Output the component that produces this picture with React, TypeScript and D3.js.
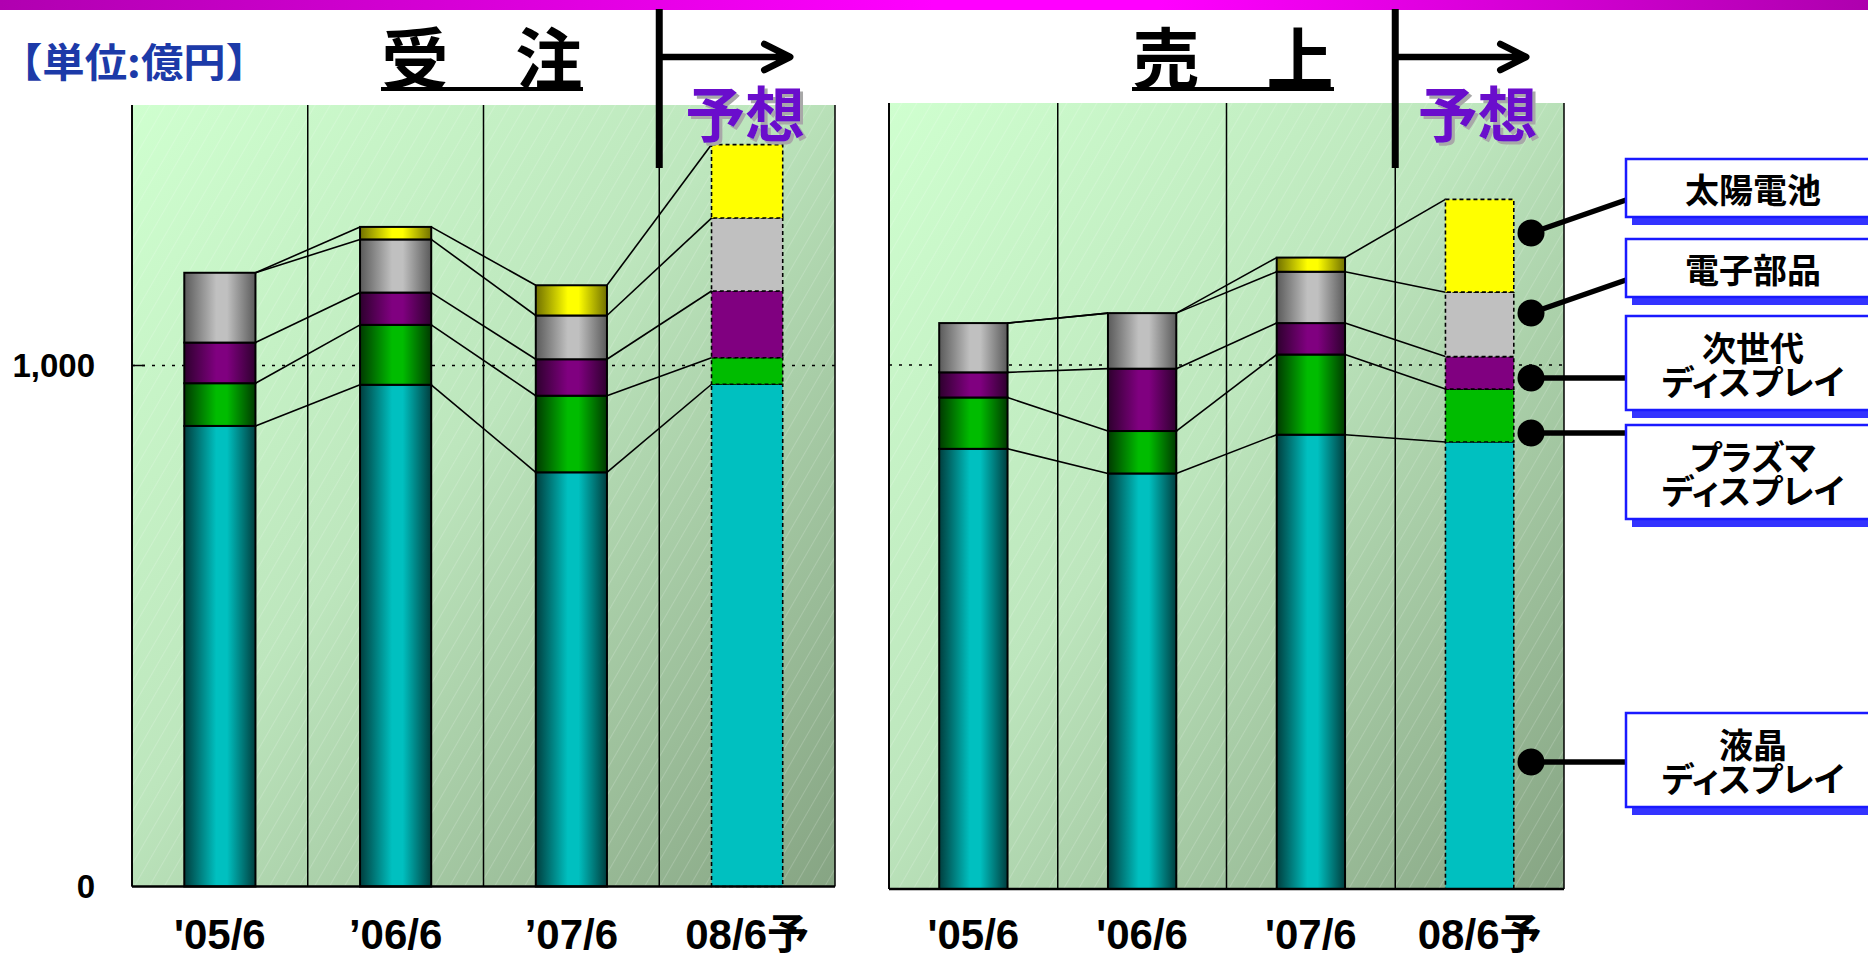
import React from "react";
import * as d3 from "d3";

const W = 1868;
const H = 957;

// Fiscal periods (June year-end); the last one is a forecast
const periods = ["05/6", "06/6", "07/6", "08/6"];
const orderTickLabels = ["'05/6", "’06/6", "’07/6", "08/6予"];
const salesTickLabels = ["'05/6", "'06/6", "'07/6", "08/6予"];
const isForecast = [false, false, false, true];

// Business segments, stacked bottom to top
const segmentKeys = ["lcd", "plasma", "nextGen", "parts", "solar"];
const segmentNames = ["液晶ディスプレイ", "プラズマディスプレイ", "次世代ディスプレイ", "電子部品", "太陽電池"];

// 受注 (orders received), 億円
const orderLcd = [884, 963, 795, 964];
const orderPlasma = [82, 115, 147, 51];
const orderNextGen = [78, 62, 70, 128];
const orderParts = [134, 102, 84, 140];
const orderSolar = [0, 24, 58, 141];

// 売上 (net sales), 億円
const salesLcd = [840, 793, 867, 853];
const salesPlasma = [98, 81, 153, 101];
const salesNextGen = [48, 119, 60, 62];
const salesParts = [94, 106, 98, 123];
const salesSolar = [0, 0, 27, 177];

const yDomainMax = 1500;
const yTickValues = [0, 1000];
const yTickLabels = ["0", "1,000"];

// segment fill colours: face colour and shaded edge for the cylinder look
const segmentFace = ["#00c0c0", "#00bc00", "#800080", "#c0c0c0", "#ffff00"];
const segmentEdge = ["#003e3e", "#003a00", "#2e002e", "#5a5a5a", "#707000"];

type Row = { period: string; [k: string]: number | string };

function buildRows(series: number[][]): Row[] {
  return periods.map((p, i) => {
    const r: Row = { period: p };
    segmentKeys.forEach((k, j) => {
      r[k] = series[j][i];
    });
    return r;
  });
}

const panels = [
  {
    id: "order",
    title: "受　注",
    titleX: 482,
    x0: 132,
    x1: 835,
    yZero: 886.5,
    yTop: 105,
    labels: orderTickLabels,
    rows: buildRows([orderLcd, orderPlasma, orderNextGen, orderParts, orderSolar]),
    axisLabels: true,
  },
  {
    id: "sales",
    title: "売　上",
    titleX: 1233,
    x0: 889,
    x1: 1564,
    yZero: 889,
    yTop: 103,
    labels: salesTickLabels,
    rows: buildRows([salesLcd, salesPlasma, salesNextGen, salesParts, salesSolar]),
    axisLabels: false,
  },
];

// Callout boxes naming each segment (layout only)
const legendLayout = [
  { seg: 4, lines: ["太陽電池"], top: 159, h: 58, dotY: 233, endY: 200 },
  { seg: 3, lines: ["電子部品"], top: 239, h: 58, dotY: 313, endY: 280 },
  { seg: 2, lines: ["次世代", "ディスプレイ"], top: 316, h: 94, dotY: 378, endY: 378 },
  { seg: 1, lines: ["プラズマ", "ディスプレイ"], top: 425, h: 94, dotY: 433, endY: 433 },
  { seg: 0, lines: ["液晶", "ディスプレイ"], top: 713, h: 94, dotY: 762, endY: 762 },
];

const CJK = "'Noto Sans CJK JP', 'Noto Sans CJK SC', sans-serif";
const LATIN = "'Liberation Sans', Arial, 'Noto Sans CJK JP', sans-serif";

function Panel({ p }: { p: (typeof panels)[number] }) {
  const x = d3.scaleBand<string>().domain(periods).range([p.x0, p.x1]).paddingInner(0).paddingOuter(0);
  const y = d3.scaleLinear().domain([0, yDomainMax]).range([p.yZero, p.yTop]);
  const stack = d3.stack<Row>().keys(segmentKeys).value((d, k) => d[k] as number);
  const layers = stack(p.rows);
  const bw = x.bandwidth();
  const barW = bw * 0.405;
  const barLeft = (i: number) => (x(periods[i]) as number) + (bw - barW) / 2;
  const divX = x(periods[3]) as number;
  const forecastCx = divX + bw / 2;

  const gridXs = [...periods.map((d) => x(d) as number), p.x1];

  return (
    <g>
      {/* plot background */}
      <rect x={p.x0} y={p.yTop} width={p.x1 - p.x0} height={p.yZero - p.yTop} fill="url(#bgGrad)" />
      <rect x={p.x0} y={p.yTop} width={p.x1 - p.x0} height={p.yZero - p.yTop} fill="url(#hatch)" />

      {/* reference line at 1,000 */}
      <line
        x1={p.x0}
        x2={p.x1}
        y1={y(1000)}
        y2={y(1000)}
        stroke="#000"
        strokeWidth={1.5}
        strokeDasharray="3 7"
      />
      {p.axisLabels && (
        <line x1={p.x0} x2={p.x0 + 13} y1={y(1000)} y2={y(1000)} stroke="#000" strokeWidth={1.5} />
      )}

      {/* category gridlines */}
      {gridXs.map((gx, i) => (
        <line key={i} x1={gx} x2={gx} y1={p.yTop} y2={p.yZero} stroke="#000" strokeWidth={1.5} />
      ))}

      {/* connectors between adjacent stacks */}
      {layers.map((layer, li) =>
        periods.slice(0, -1).map((_, i) => (
          <line
            key={`c${li}-${i}`}
            x1={barLeft(i) + barW}
            y1={y(layer[i][1])}
            x2={barLeft(i + 1)}
            y2={y(layer[i + 1][1])}
            stroke="#000"
            strokeWidth={1.6}
          />
        ))
      )}

      {/* stacked bars */}
      {layers.map((layer, li) =>
        layer.map((d, i) => {
          if (d[1] - d[0] <= 0) return null;
          const top = y(d[1]);
          const h = y(d[0]) - top;
          if (isForecast[i]) {
            return (
              <rect
                key={`b${li}-${i}`}
                x={barLeft(i)}
                y={top}
                width={barW}
                height={h}
                fill={segmentFace[li]}
                stroke="#000"
                strokeWidth={1.6}
                strokeDasharray="4 3"
              />
            );
          }
          return (
            <rect
              key={`b${li}-${i}`}
              x={barLeft(i)}
              y={top}
              width={barW}
              height={h}
              fill={`url(#cyl${li})`}
              stroke="#000"
              strokeWidth={2}
            />
          );
        })
      )}

      {/* left border and baseline */}
      <line x1={p.x0} x2={p.x0} y1={p.yTop} y2={p.yZero} stroke="#000" strokeWidth={1.8} />
      <line x1={p.x0} x2={p.x1} y1={p.yZero} y2={p.yZero} stroke="#000" strokeWidth={2.5} />

      {/* y tick labels */}
      {p.axisLabels &&
        yTickValues.map((v, i) => (
          <text
            key={`yt${i}`}
            x={95}
            y={y(v)}
            dy="0.36em"
            textAnchor="end"
            fontFamily={LATIN}
            fontWeight={700}
            fontSize={33}
            fill="#000"
          >
            {yTickLabels[i]}
          </text>
        ))}

      {/* category labels */}
      {p.labels.map((lab, i) => (
        <text
          key={`xl${i}`}
          x={(x(periods[i]) as number) + bw / 2}
          y={949}
          textAnchor="middle"
          fontFamily={LATIN}
          fontWeight={700}
          fontSize={42}
          fill="#000"
        >
          {lab}
        </text>
      ))}

      {/* title */}
      <text
        x={p.titleX}
        y={54}
        dominantBaseline="central"
        textAnchor="middle"
        fontFamily={CJK}
        fontWeight={700}
        fontSize={67}
        fill="#000"
      >
        {p.title}
      </text>
      <line x1={p.titleX - 101} x2={p.titleX + 101} y1={89} y2={89} stroke="#000" strokeWidth={4} />

      {/* forecast divider and arrow */}
      <line x1={divX} x2={divX} y1={9} y2={168} stroke="#000" strokeWidth={7} />
      <path
        d={`M${divX},57 H${divX + 129} M${divX + 105},44 L${divX + 131},57 L${divX + 105},70`}
        fill="none"
        stroke="#000"
        strokeWidth={6.5}
        strokeLinecap="round"
        strokeLinejoin="round"
      />
      <text
        x={forecastCx - 2}
        y={110}
        dominantBaseline="central"
        textAnchor="middle"
        fontFamily={CJK}
        fontWeight={700}
        fontSize={60}
        fill="#6a0ccc"
        filter="url(#softShadow)"
      >
        予想
      </text>
    </g>
  );
}

export default function App() {
  const boxX = 1626;
  const boxW = 254;
  const dotX = 1531;
  return (
    <div style={{ position: "absolute", left: 0, top: 0, width: W, height: H, background: "#fff" }}>
      <svg width={W} height={H} viewBox={`0 0 ${W} ${H}`} style={{ display: "block" }}>
        <defs>
          <linearGradient id="topBand" x1="0" y1="0" x2="1" y2="0">
            <stop offset="0" stopColor="#b000b0" />
            <stop offset="0.5" stopColor="#ff00ff" />
            <stop offset="0.62" stopColor="#ff00ff" />
            <stop offset="1" stopColor="#ae00ae" />
          </linearGradient>
          <linearGradient id="bgGrad" x1="0" y1="0" x2="1" y2="1">
            <stop offset="0" stopColor="#cfffcf" />
            <stop offset="0.45" stopColor="#bde6bd" />
            <stop offset="1" stopColor="#86a483" />
          </linearGradient>
          <pattern id="hatch" patternUnits="userSpaceOnUse" width={13} height={13} patternTransform="rotate(30)">
            <line x1={0} y1={0} x2={0} y2={13} stroke="#ffffff" strokeOpacity={0.35} strokeWidth={1} />
          </pattern>
          <filter id="softShadow" x="-10%" y="-10%" width="130%" height="130%">
            <feDropShadow dx={3} dy={3} stdDeviation={0.6} floodColor="#a8a8a8" floodOpacity={1} />
          </filter>
          {segmentFace.map((c, i) => (
            <linearGradient key={i} id={`cyl${i}`} x1="0" y1="0" x2="1" y2="0">
              <stop offset="0" stopColor={segmentEdge[i]} />
              <stop offset="0.45" stopColor={c} />
              <stop offset="0.6" stopColor={c} />
              <stop offset="1" stopColor={segmentEdge[i]} />
            </linearGradient>
          ))}
        </defs>

        <rect x={0} y={0} width={W} height={10} fill="url(#topBand)" />

        <text
          x={0}
          y={60}
          dominantBaseline="central"
          fontFamily={CJK}
          fontWeight={700}
          fontSize={40}
          fill="#1c3aa8"
          textLength={268}
          lengthAdjust="spacingAndGlyphs"
        >
          【単位:億円】
        </text>

        {panels.map((p) => (
          <Panel key={p.id} p={p} />
        ))}

        {/* segment callouts */}
        {legendLayout.map((l, i) => {
          const cy = l.top + l.h / 2;
          const lineGap = 34;
          const firstY = cy - ((l.lines.length - 1) / 2) * lineGap;
          return (
            <g key={i}>
              <line x1={dotX} y1={l.dotY} x2={boxX} y2={l.endY} stroke="#000" strokeWidth={5.5} />
              <circle cx={dotX} cy={l.dotY} r={13.5} fill="#000" />
              <rect x={boxX + 6} y={l.top + 8} width={boxW} height={l.h} fill="#3333ff" />
              <rect x={boxX} y={l.top} width={boxW} height={l.h} fill="#fff" stroke="#1a1aff" strokeWidth={2.5} />
              <text
                textAnchor="middle"
                fontFamily={CJK}
                fontWeight={700}
                fontSize={34}
                fill="#000"
                style={{ fontFeatureSettings: '"palt"' }}
              >
                {l.lines.map((t, j) => (
                  <tspan key={j} x={1753} y={firstY + j * lineGap} dominantBaseline="central">
                    {t}
                  </tspan>
                ))}
              </text>
              <title>{segmentNames[l.seg]}</title>
            </g>
          );
        })}
      </svg>
    </div>
  );
}
